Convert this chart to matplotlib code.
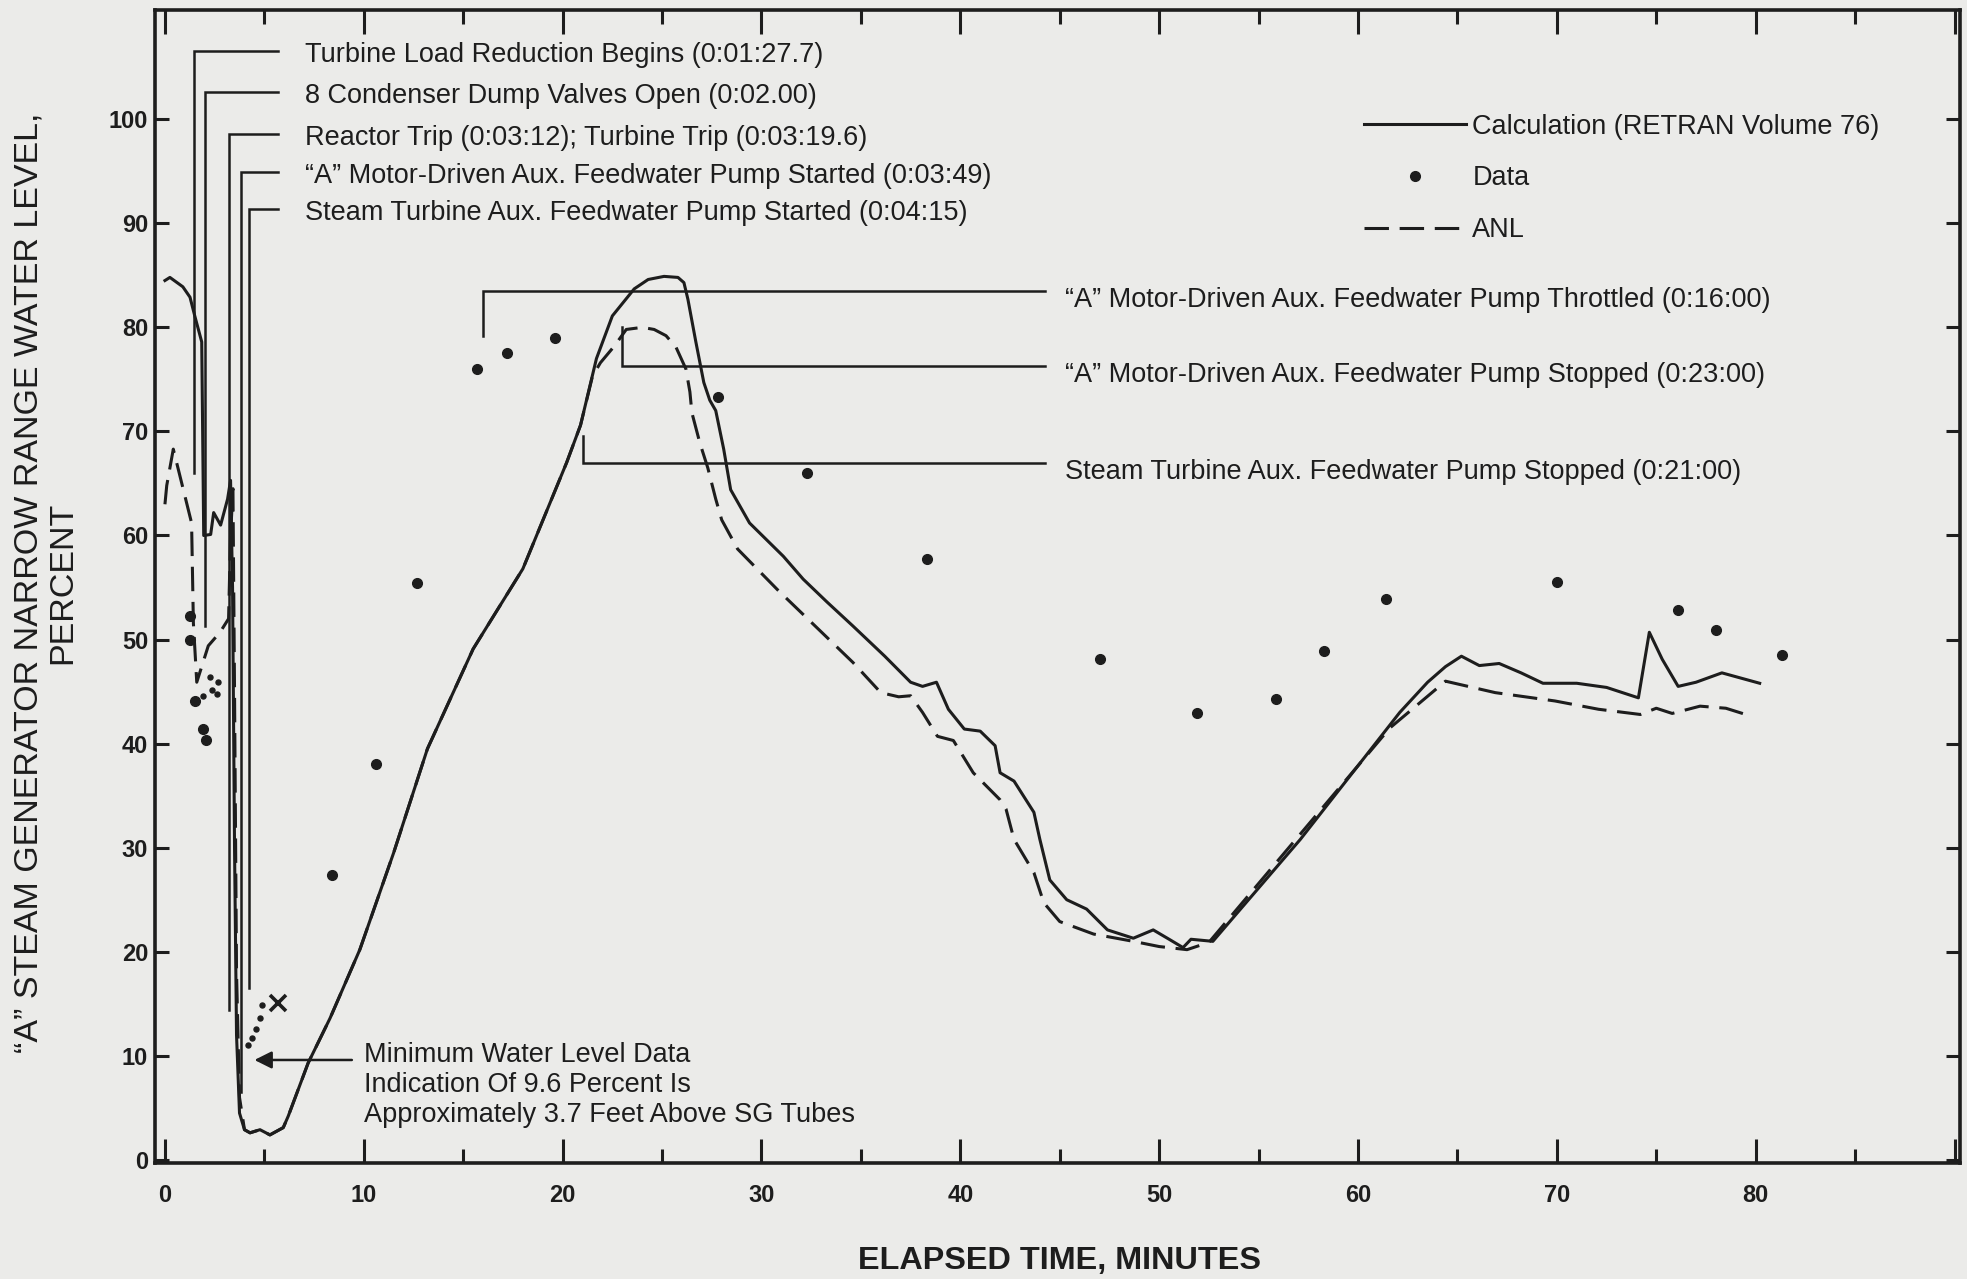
import matplotlib
matplotlib.use("Agg")
import matplotlib.pyplot as plt

plt.rcParams["font.family"] = ["Liberation Sans", "DejaVu Sans"]

INK = "#1d1d1d"
PAPER = "#ebebe9"

# RETRAN calculation (Volume 76), minutes vs. percent narrow range level
calc_t = [0.0, 0.25, 0.9, 1.26, 1.5, 1.85, 1.95, 2.3, 2.45, 2.8,
          3.15, 3.3, 3.4, 3.5, 3.6, 3.75, 4.0, 4.28, 4.78, 5.28,
          5.95, 6.2, 7.2, 8.3, 9.8, 11.5, 13.2, 15.5, 18.0, 20.2,
          20.9, 21.7, 22.5, 23.6, 24.3, 25.1, 25.8, 26.1, 26.3, 26.7,
          27.1, 27.4, 27.7, 28.1, 28.45, 29.4, 31.1, 32.1, 33.3, 34.6,
          36.2, 37.5, 38.1, 38.8, 39.4, 40.2, 41.0, 41.75, 42.0, 42.7,
          43.7, 44.0, 44.5, 45.35, 46.35, 47.4, 48.7, 49.7, 50.5, 51.2,
          51.6, 52.7, 57.1, 62.1, 63.5, 64.4, 65.2, 66.1, 67.1, 68.2,
          69.3, 71.0, 72.5, 74.1, 74.65, 75.3, 76.1, 77.0, 78.3, 80.2]
calc_y = [84.5, 84.8, 83.9, 82.9, 81.1, 78.6, 60.0, 60.1, 62.2, 61.0,
          63.5, 65.3, 55.0, 30.0, 12.0, 4.5, 2.9, 2.6, 2.9, 2.4,
          3.1, 4.2, 9.3, 13.6, 20.2, 29.5, 39.5, 49.1, 56.8, 67.0,
          70.6, 77.0, 81.1, 83.7, 84.6, 84.9, 84.8, 84.3, 82.7, 78.6,
          74.7, 73.0, 72.0, 68.3, 64.4, 61.2, 58.0, 55.8, 53.6, 51.3,
          48.4, 45.9, 45.5, 45.9, 43.3, 41.4, 41.2, 39.8, 37.2, 36.4,
          33.4, 30.8, 26.9, 25.0, 24.1, 22.1, 21.3, 22.1, 21.2, 20.4,
          21.2, 21.0, 30.8, 43.0, 45.9, 47.4, 48.4, 47.5, 47.7, 46.8,
          45.8, 45.8, 45.4, 44.4, 50.7, 48.1, 45.5, 45.9, 46.8, 45.8]

# ANL calculation
anl_t = [0.0, 0.09, 0.42, 1.34, 1.43, 1.6, 2.18, 2.77, 3.2, 3.3,
         3.42, 3.5, 3.6, 3.75, 4.0, 4.28, 4.78, 5.28, 5.95, 6.2,
         7.2, 8.3, 9.8, 11.5, 13.2, 15.5, 18.0, 20.2, 20.9, 21.5,
         21.9, 22.6, 23.2, 24.0, 24.6, 25.2, 25.7, 26.2, 26.4, 26.5,
         26.9, 27.3, 27.7, 28.0, 28.8, 30.8, 32.7, 34.6, 36.0, 36.9,
         37.5, 38.1, 38.85, 39.65, 40.65, 42.0, 42.3, 42.7, 43.7, 44.2,
         45.0, 46.7, 48.7, 50.0, 51.4, 52.5, 61.6, 64.4, 66.9, 69.9,
         72.1, 74.2, 75.0, 75.8, 77.2, 78.5, 79.5]
anl_y = [63.0, 64.8, 68.3, 61.2, 51.6, 45.9, 49.4, 50.7, 52.0, 60.0,
         64.5, 45.0, 18.0, 6.0, 2.9, 2.6, 2.9, 2.4, 3.1, 4.2,
         9.3, 13.6, 20.2, 29.5, 39.5, 49.1, 56.8, 67.0, 70.6, 75.3,
         76.6, 78.2, 79.8, 80.0, 79.8, 79.2, 78.1, 76.0, 73.8, 71.8,
         68.9, 66.5, 63.5, 61.5, 58.7, 54.8, 51.3, 47.8, 44.9, 44.5,
         44.6, 43.0, 40.7, 40.3, 37.2, 34.6, 33.7, 30.8, 27.6, 24.7,
         22.9, 21.7, 21.0, 20.5, 20.2, 20.9, 41.5, 46.0, 44.9, 44.1,
         43.3, 42.8, 43.4, 42.9, 43.6, 43.4, 42.8]

# Plant data
data_t = [1.26, 1.26, 1.5, 1.93, 2.05, 8.4, 10.6, 12.7, 15.7, 17.2,
          19.6, 27.8, 32.3, 38.3, 47.0, 51.9, 55.9, 58.3, 61.4, 70.0,
          76.1, 78.0, 81.3]
data_y = [52.3, 50.0, 44.1, 41.4, 40.3, 27.4, 38.0, 55.4, 76.0, 77.5,
          79.0, 73.3, 66.0, 57.7, 48.1, 42.9, 44.3, 48.9, 53.9, 55.5,
          52.8, 50.9, 48.5]

# Closely spaced readings (small dots) and the minimum-level mark
trace_t = [1.93, 2.27, 2.35, 2.6, 2.66, 4.2, 4.36, 4.58, 4.78, 4.86]
trace_y = [44.6, 46.4, 45.2, 44.8, 45.9, 11.0, 11.7, 12.6, 13.6, 14.9]
mark_t = [5.7]
mark_y = [15.1]

# Sequence-of-events callouts (upper left)
event_labels = [
    "Turbine Load Reduction Begins (0:01:27.7)",
    "8 Condenser Dump Valves Open (0:02.00)",
    "Reactor Trip (0:03:12); Turbine Trip (0:03:19.6)",
    "\u201cA\u201d Motor-Driven Aux. Feedwater Pump Started (0:03:49)",
    "Steam Turbine Aux. Feedwater Pump Started (0:04:15)",
]
event_t = [1.46, 2.0, 3.2, 3.82, 4.25]
event_line_y = [106.6, 102.6, 98.6, 94.9, 91.4]
event_leader_end = [66.0, 51.3, 14.4, 6.5, 16.5]

# Feedwater pump callouts (right of the peak)
pump_labels = [
    "\u201cA\u201d Motor-Driven Aux. Feedwater Pump Throttled (0:16:00)",
    "\u201cA\u201d Motor-Driven Aux. Feedwater Pump Stopped (0:23:00)",
    "Steam Turbine Aux. Feedwater Pump Stopped (0:21:00)",
]
pump_t = [16.0, 23.0, 21.0]
pump_line_y = [83.5, 76.3, 67.0]
pump_leader_end = [79.2, 80.0, 69.6]

min_note = ("Minimum Water Level Data\n"
            "Indication Of 9.6 Percent Is\n"
            "Approximately 3.7 Feet Above SG Tubes")
min_level = 9.6

x_major = list(range(0, 91, 10))
x_labels = [str(v) for v in range(0, 81, 10)] + [""]
x_minor = list(range(5, 90, 10))
y_major = list(range(0, 101, 10))

TXT = 19.5

fig = plt.figure(figsize=(19.67, 12.79), dpi=100, facecolor=PAPER)
ax = fig.add_axes([0.0788, 0.0907, 0.9174, 0.9015], facecolor=PAPER)

anl_line, = ax.plot(anl_t, anl_y, color=INK, lw=2.2, dashes=(8, 3.5),
                    label="ANL", zorder=3)
calc_line, = ax.plot(calc_t, calc_y, color=INK, lw=2.2,
                     label="Calculation (RETRAN Volume 76)", zorder=4)
data_pts, = ax.plot(data_t, data_y, ls="none", marker="o", ms=7,
                    color=INK, label="Data", zorder=5)
ax.plot(trace_t, trace_y, ls="none", marker="o", ms=3.6, color=INK, zorder=5)
ax.plot(mark_t, mark_y, ls="none", marker="x", ms=12, mew=2.6, color=INK,
        zorder=5)

# event leaders: vertical drop at the event time, short elbow to the text
elbow_t, text_t = 5.71, 7.03
for lab, t, ly, end in zip(event_labels, event_t, event_line_y, event_leader_end):
    ax.plot([t, t, elbow_t], [end, ly, ly], color=INK, lw=1.8, zorder=2,
            solid_joinstyle="miter")
    ax.text(text_t, ly - 0.4, lab, fontsize=TXT, ha="left", va="center",
            color=INK)

line_end_t, pump_text_t = 44.26, 45.25
for lab, t, ly, end in zip(pump_labels, pump_t, pump_line_y, pump_leader_end):
    ax.plot([t, t, line_end_t], [end, ly, ly], color=INK, lw=1.8, zorder=2,
            solid_joinstyle="miter")
    ax.text(pump_text_t, ly - 0.9, lab, fontsize=TXT, ha="left", va="center",
            color=INK)

ax.annotate("", xy=(4.5, min_level), xytext=(9.4, min_level),
            arrowprops=dict(arrowstyle="-|>", color=INK, lw=1.8,
                            mutation_scale=26, shrinkA=0, shrinkB=0))
ax.text(10.0, 7.2, min_note, fontsize=TXT, ha="left", va="center",
        linespacing=1.22, color=INK)

leg = ax.legend(handles=[calc_line, data_pts, anl_line], loc="upper left",
                bbox_to_anchor=(0.670, 0.910), frameon=False, fontsize=TXT,
                handlelength=3.75, handletextpad=0.25, labelspacing=0.95,
                borderpad=0, borderaxespad=0)
for txt in leg.get_texts():
    txt.set_color(INK)

ax.set_xlim(-0.5, 90.25)
ax.set_ylim(-0.3, 110.5)
ax.set_xticks(x_major)
ax.set_xticklabels(x_labels)
ax.set_xticks(x_minor, minor=True)
ax.set_yticks(y_major)

ax.tick_params(axis="x", which="major", direction="in", length=17, width=2.2,
               top=True, bottom=True, pad=15, labelsize=17, colors=INK)
ax.tick_params(axis="x", which="minor", direction="in", length=10, width=2.2,
               top=True, bottom=True, colors=INK)
ax.tick_params(axis="y", which="major", direction="in", length=10, width=2.2,
               left=True, right=True, pad=5, labelsize=17, colors=INK)
for lab in ax.get_xticklabels() + ax.get_yticklabels():
    lab.set_fontweight("bold")

for sp in ax.spines.values():
    sp.set_linewidth(2.6)
    sp.set_color(INK)

ax.set_xlabel("ELAPSED TIME, MINUTES", fontsize=23.3, fontweight="bold",
              color=INK)
ax.xaxis.set_label_coords(0.5015, -0.0717)
ax.set_ylabel("\u201cA\u201d STEAM GENERATOR NARROW RANGE WATER LEVEL,\nPERCENT",
              fontsize=24.5, multialignment="center", va="center",
              linespacing=1.1, color=INK)
ax.yaxis.set_label_coords(-0.0604, 0.503)

fig.savefig("out.png", dpi=100, facecolor=PAPER)
